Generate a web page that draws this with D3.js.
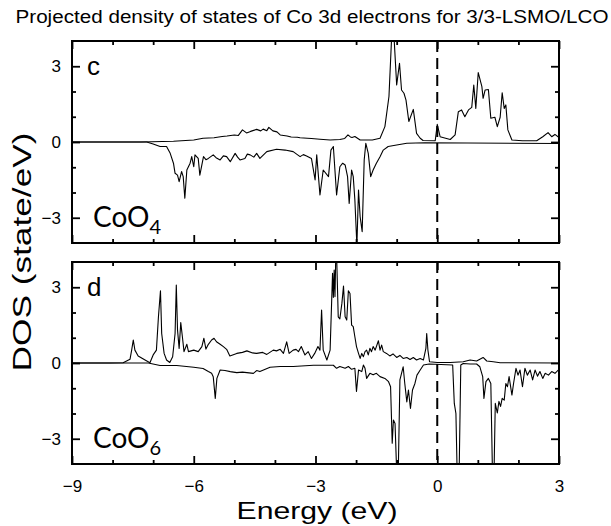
<!DOCTYPE html>
<html><head><meta charset="utf-8">
<script src="https://cdn.jsdelivr.net/npm/d3@7"></script>
<style>body{margin:0;background:#fff}</style>
</head><body>
<svg id="chart" width="611" height="526"></svg>
<script>
// ---- data (energy eV, DOS state/eV) ----
const titleText = "Projected density of states of Co 3d electrons for 3/3-LSMO/LCO";
const xTickLabels = [-9, -6, -3, 0, 3];
const yTickLabels = [3, 0, -3];
const panelLetters = ["c", "d"];
const panelSites = ["CoO", "CoO"];
const panelSubs = ["4", "6"];

const cUp = [[-9,0],[-7.3,0],[-6.5,0.03],[-6.0,0.08],[-5.77,0.15],[-5.5,0.17],[-5.3,0.22],[-5.18,0.24],[-5.0,0.28],[-4.9,0.26],[-4.8,0.48],[-4.7,0.36],[-4.6,0.42],[-4.45,0.5],[-4.35,0.44],[-4.29,0.51],[-4.2,0.45],[-4.15,0.58],[-4.05,0.44],[-3.95,0.4],[-3.87,0.28],[-3.7,0.24],[-3.6,0.2],[-3.45,0.19],[-3.38,0.17],[-3.2,0.15],[-3.1,0.14],[-2.89,0.11],[-2.64,0.08],[-2.4,0.1],[-2.28,0.14],[-2.2,0.28],[-2.14,0.2],[-2.1,0.18],[-2.03,0.22],[-1.9,0.08],[-1.6,0.08],[-1.41,0.15],[-1.29,0.61],[-1.19,1.8],[-1.12,4.3],[-1.07,4.3],[-1.0,2.26],[-0.93,3.12],[-0.88,2.06],[-0.82,1.93],[-0.77,1.66],[-0.7,0.81],[-0.59,1.29],[-0.51,0.34],[-0.42,0.15],[-0.35,0.06],[-0.05,0.05],[0,0.7],[0.07,0.21],[0.32,0.1],[0.44,0.28],[0.52,1.2],[0.6,1.27],[0.68,1.0],[0.77,1.27],[0.85,1.37],[0.9,2.26],[0.95,1.33],[1.01,2.75],[1.1,2.19],[1.13,1.73],[1.18,2.06],[1.26,2.08],[1.32,0.94],[1.42,0.98],[1.48,0.61],[1.55,0.98],[1.6,1.95],[1.65,1.33],[1.69,1.47],[1.74,0.48],[1.84,0.08],[2.1,0.05],[2.45,0.05],[2.6,0.21],[2.73,0.37],[2.82,0.21],[2.9,0.3],[3.0,0.18]];

const cDn = [[-9,0],[-7.16,0],[-7.0,-0.08],[-6.83,-0.18],[-6.67,-0.18],[-6.58,-0.45],[-6.5,-0.84],[-6.46,-1.24],[-6.4,-1.31],[-6.36,-1.57],[-6.3,-1.17],[-6.26,-1.37],[-6.22,-2.23],[-6.17,-1.11],[-6.09,-0.84],[-6.05,-0.58],[-6.0,-0.98],[-5.97,-0.51],[-5.89,-0.65],[-5.85,-1.31],[-5.76,-0.58],[-5.7,-0.7],[-5.64,-0.65],[-5.52,-0.51],[-5.45,-0.62],[-5.35,-0.71],[-5.27,-0.55],[-5.19,-0.58],[-5.1,-0.78],[-4.98,-0.45],[-4.92,-0.6],[-4.86,-0.71],[-4.74,-0.65],[-4.68,-0.48],[-4.61,-0.51],[-4.52,-0.6],[-4.45,-0.45],[-4.37,-0.65],[-4.2,-0.38],[-3.96,-0.29],[-3.75,-0.32],[-3.55,-0.38],[-3.38,-0.58],[-3.3,-0.5],[-3.22,-0.55],[-3.1,-0.65],[-3.01,-1.5],[-2.97,-0.51],[-2.89,-2.1],[-2.81,-1.11],[-2.68,-1.37],[-2.62,-0.32],[-2.56,-0.18],[-2.48,-2.1],[-2.4,-0.98],[-2.33,-0.84],[-2.27,-0.91],[-2.21,-1.37],[-2.17,-2.43],[-2.11,-1.11],[-2.07,-1.37],[-2.03,-2.3],[-1.98,-4.1],[-1.94,-1.9],[-1.9,-2.96],[-1.85,-3.55],[-1.8,-0.71],[-1.76,-0.05],[-1.7,-0.45],[-1.64,-1.37],[-1.58,-1.11],[-1.5,-0.84],[-1.41,-0.58],[-1.33,-0.32],[-1.21,-0.18],[-1.0,-0.12],[-0.75,-0.05],[-0.3,-0.03],[3.0,-0.06]];

const dUp = [[-9,0],[-8.06,0],[-7.74,0.01],[-7.57,0.15],[-7.53,0.51],[-7.49,0.91],[-7.45,0.51],[-7.37,0.28],[-7.2,0.12],[-7.08,0.01],[-7.0,0.32],[-6.92,0.51],[-6.87,1.83],[-6.82,2.86],[-6.79,1.17],[-6.73,0.38],[-6.67,0.12],[-6.59,0.02],[-6.52,0.25],[-6.46,1.17],[-6.43,3.09],[-6.4,1.31],[-6.36,0.58],[-6.32,1.6],[-6.28,1.04],[-6.24,0.45],[-6.17,0.74],[-6.13,0.45],[-6.0,0.51],[-5.89,0.45],[-5.8,0.65],[-5.75,0.98],[-5.7,0.55],[-5.64,0.74],[-5.56,0.91],[-5.5,0.98],[-5.44,0.84],[-5.35,0.74],[-5.27,0.65],[-5.19,0.54],[-5.11,0.28],[-4.94,0.38],[-4.8,0.42],[-4.69,0.48],[-4.55,0.4],[-4.45,0.38],[-4.3,0.42],[-4.2,0.34],[-4.04,0.51],[-3.96,0.48],[-3.87,0.54],[-3.79,0.38],[-3.71,0.84],[-3.65,0.38],[-3.55,0.51],[-3.48,0.54],[-3.42,0.45],[-3.35,0.65],[-3.26,0.32],[-3.18,0.45],[-3.1,0.18],[-3.02,0.38],[-2.94,0.65],[-2.89,0.51],[-2.85,2.1],[-2.81,0.51],[-2.72,0.12],[-2.64,0.51],[-2.58,3.55],[-2.56,2.6],[-2.54,3.68],[-2.52,2.63],[-2.5,4.3],[-2.48,4.3],[-2.44,1.83],[-2.4,1.75],[-2.35,2.36],[-2.31,3.05],[-2.27,1.83],[-2.23,1.7],[-2.19,2.86],[-2.15,2.75],[-2.11,1.5],[-2.07,1.44],[-2.03,1.04],[-1.99,0.65],[-1.94,0.38],[-1.9,0.18],[-1.86,0.38],[-1.82,0.25],[-1.78,0.45],[-1.74,0.51],[-1.7,0.32],[-1.66,0.58],[-1.62,0.45],[-1.58,0.65],[-1.53,0.51],[-1.45,0.88],[-1.41,0.51],[-1.37,0.71],[-1.33,0.45],[-1.25,0.38],[-1.17,0.28],[-1.09,0.36],[-1.0,0.22],[-0.92,0.3],[-0.84,0.18],[-0.75,0.22],[-0.67,0.14],[-0.59,0.22],[-0.51,0.12],[-0.42,0.18],[-0.34,0.12],[-0.28,0.58],[-0.26,1.17],[-0.23,0.51],[-0.19,0.05],[0,0.02],[0.32,0.02],[0.64,0.05],[0.81,0.12],[0.97,0.08],[1.13,0.22],[1.22,0.08],[1.38,0.05],[1.55,0.01],[3.0,0]];

const dDn = [[-9,0],[-7.12,0],[-6.83,-0.1],[-6.42,-0.1],[-6.0,-0.17],[-5.77,-0.22],[-5.64,-0.34],[-5.56,-0.41],[-5.52,-0.54],[-5.47,-1.4],[-5.43,-0.61],[-5.35,-0.28],[-5.23,-0.3],[-5.1,-0.34],[-4.94,-0.38],[-4.8,-0.36],[-4.69,-0.38],[-4.53,-0.41],[-4.45,-0.3],[-4.37,-0.34],[-4.12,-0.17],[-3.87,-0.14],[-3.55,-0.14],[-3.05,-0.09],[-2.72,-0.09],[-2.56,-0.09],[-2.48,-0.21],[-2.4,-0.14],[-2.27,-0.21],[-2.19,-0.14],[-2.11,-0.25],[-2.03,-0.21],[-1.99,-1.13],[-1.94,-0.28],[-1.86,-0.34],[-1.82,-0.08],[-1.78,-0.21],[-1.74,-0.61],[-1.66,-0.41],[-1.58,-0.47],[-1.5,-0.41],[-1.41,-0.54],[-1.29,-0.61],[-1.2,-0.74],[-1.15,-0.94],[-1.11,-3.18],[-1.08,-2.26],[-1.04,-2.4],[-1.0,-4.3],[-0.96,-4.3],[-0.92,-0.67],[-0.88,-0.41],[-0.84,-0.15],[-0.8,-0.81],[-0.75,-1.54],[-0.71,-1.07],[-0.66,-1.8],[-0.61,-1.07],[-0.55,-0.81],[-0.5,-0.48],[-0.42,-0.28],[-0.34,-0.08],[-0.2,-0.04],[0.38,-0.08],[0.42,-1.6],[0.46,-2.0],[0.49,-4.3],[0.54,-4.3],[0.58,-0.08],[0.64,-0.02],[0.81,-0.04],[0.97,-0.04],[1.05,-0.15],[1.12,-0.54],[1.15,-1.4],[1.2,-0.74],[1.26,-0.61],[1.32,-0.81],[1.36,-4.3],[1.4,-4.3],[1.43,-1.6],[1.48,-1.98],[1.52,-1.52],[1.56,-1.72],[1.6,-1.4],[1.65,-1.47],[1.69,-0.81],[1.73,-0.94],[1.77,-0.54],[1.84,-1.27],[1.88,-0.81],[1.94,-0.21],[1.99,-0.48],[2.04,-0.28],[2.1,-0.94],[2.16,-0.21],[2.22,-0.48],[2.29,-0.28],[2.35,-0.67],[2.41,-0.28],[2.47,-0.52],[2.53,-0.34],[2.6,-0.61],[2.66,-0.41],[2.74,-0.48],[2.82,-0.34],[2.9,-0.41],[3.0,-0.25]];

const panelSeries = [[cUp, cDn], [dUp, dDn]];

// ---- layout ----
const svg = d3.select("#chart");
const L = 72, R = 559;
const panelTops = [41, 262];
const PH = 202;
const FONT = "'Liberation Sans', Arial, sans-serif";

const x = d3.scaleLinear().domain([-9, 3]).range([L, R]);

svg.append("text").attr("x", 312).attr("y", 23).attr("text-anchor", "middle")
  .attr("font-family", FONT).attr("font-size", 17.5).attr("fill", "#000")
  .attr("textLength", 593).attr("lengthAdjust", "spacingAndGlyphs").text(titleText);

panelTops.forEach((top, i) => {
  const y = d3.scaleLinear().domain([-4, 4]).range([top + PH, top]);
  const g = svg.append("g");
  const clipId = "clip" + i;
  svg.append("defs").append("clipPath").attr("id", clipId)
    .append("rect").attr("x", L).attr("y", top).attr("width", R - L).attr("height", PH);

  const line = d3.line().x(d => x(d[0])).y(d => y(d[1]));
  const lg = g.append("g").attr("clip-path", `url(#${clipId})`);
  panelSeries[i].forEach(s => {
    lg.append("path").datum(s).attr("d", line).attr("fill", "none")
      .attr("stroke", "#000").attr("stroke-width", 1.1).attr("stroke-linejoin", "round");
  });
  // Fermi level dashed line
  lg.append("line").attr("x1", x(0)).attr("x2", x(0)).attr("y1", y(4)).attr("y2", y(-4))
    .attr("stroke", "#000").attr("stroke-width", 2).attr("stroke-dasharray", "11,6");

  // axes (inward ticks)
  const minorX = d3.range(-9, 3.01, 1).filter(v => v % 3 !== 0);
  const majorX = xTickLabels;
  const styleAxis = sel => { sel.select(".domain").remove(); sel.selectAll("line").attr("stroke", "#000").attr("stroke-width", 1.8); };
  const addX = (pos, vals, size, labels) => {
    const ax = (pos === "bottom" ? d3.axisBottom(x) : d3.axisTop(x)).tickValues(vals).tickSize(-size)
      .tickFormat(labels ? d3.format("d") : "");
    const a = g.append("g").attr("transform", `translate(0,${pos === "bottom" ? top + PH : top})`).call(ax);
    styleAxis(a);
    a.selectAll("text").attr("font-family", FONT).attr("font-size", 17).attr("fill", "#000");
    return a;
  };
  const isBottom = i === panelTops.length - 1;
  const bx = addX("bottom", majorX, 8, isBottom);
  if (isBottom) bx.selectAll("text").attr("dy", null).attr("y", 0).attr("transform", "translate(0,28)");
  addX("bottom", minorX, 4, false);
  addX("top", majorX, 8, false);
  addX("top", minorX, 4, false);

  const minorY = [-2, -1, 1, 2];
  const addY = (pos, vals, size, labels) => {
    const ax = (pos === "left" ? d3.axisLeft(y) : d3.axisRight(y)).tickValues(vals).tickSize(-size)
      .tickFormat(labels ? d3.format("d") : "").tickPadding(11);
    const a = g.append("g").attr("transform", `translate(${pos === "left" ? L : R},0)`).call(ax);
    styleAxis(a);
    a.selectAll("text").attr("font-family", FONT).attr("font-size", 17).attr("fill", "#000");
    return a;
  };
  addY("left", yTickLabels, 8, true);
  addY("left", minorY, 4, false);
  addY("right", yTickLabels, 8, false);
  addY("right", minorY, 4, false);

  // frame
  g.append("rect").attr("x", L).attr("y", top).attr("width", R - L).attr("height", PH)
    .attr("fill", "none").attr("stroke", "#000").attr("stroke-width", 2);

  // panel letter
  g.append("text").attr("x", 87).attr("y", top + 34).attr("font-family", FONT)
    .attr("font-size", 26).attr("fill", "#000").text(panelLetters[i]);
  // site label
  const t = g.append("text").attr("x", 93).attr("y", top + 186)
    .attr("font-family", "Lato, 'Open Sans', sans-serif").attr("font-size", 28).attr("fill", "#000");
  t.append("tspan").text(panelSites[i]);
  t.append("tspan").attr("dy", 7).attr("font-size", 20).text(panelSubs[i]);
});

svg.append("text").attr("x", 317).attr("y", 519).attr("text-anchor", "middle")
  .attr("font-family", FONT).attr("font-size", 24).attr("fill", "#000")
  .attr("textLength", 161).attr("lengthAdjust", "spacingAndGlyphs").text("Energy (eV)");

svg.append("text").attr("transform", "translate(31,252) rotate(-90)").attr("text-anchor", "middle")
  .attr("font-family", FONT).attr("font-size", 26).attr("fill", "#000")
  .attr("textLength", 239).attr("lengthAdjust", "spacingAndGlyphs").text("DOS (state/eV)");
</script>
</body></html>
